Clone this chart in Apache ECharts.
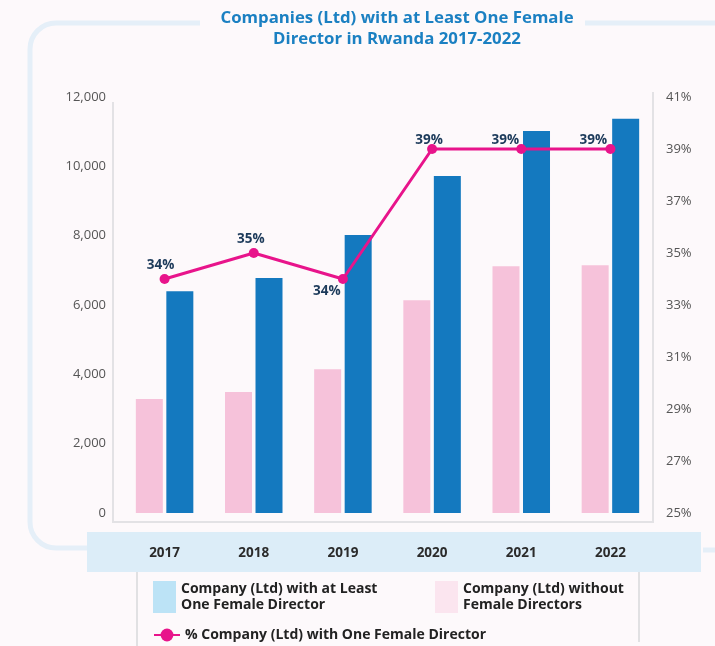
<!DOCTYPE html>
<html>
<head>
<meta charset="utf-8">
<script src="https://cdn.jsdelivr.net/npm/echarts@6/dist/echarts.min.js"></script>
<style>
  html, body { margin: 0; padding: 0; background: #fdf9fb; }
  #chart { width: 715px; height: 646px; }
</style>
</head>
<body>
<div id="chart"></div>
<script>
// Registered companies (Ltd) in Rwanda, by year
const years = ['2017', '2018', '2019', '2020', '2021', '2022'];
const withoutFemale = [3290, 3490, 4150, 6140, 7120, 7150];
const withFemale = [6400, 6780, 8020, 9720, 11020, 11370];
const sharePct = [34, 35, 34, 39, 39, 39];

const leftTicks = { min: 0, max: 12000, interval: 2000 };
const rightTicks = { min: 25, max: 41, interval: 2 };

const NAME_WITH = 'Company (Ltd) with at Least One Female Director';
const NAME_WITHOUT = 'Company (Ltd) without Female Directors';
const NAME_SHARE = '% Company (Ltd) with One Female Director';

const FONT = '"Open Sans", "DejaVu Sans", sans-serif';

// label placement around each point of the share line
const labelPlacement = [
  { position: 'top', offset: [-4, 0] },
  { position: 'top', offset: [-3, 0] },
  { position: 'bottom', offset: [-16, -2] },
  { position: 'top', offset: [-3, 5] },
  { position: 'top', offset: [-16, 5] },
  { position: 'top', offset: [-17, 5] }
];

const shareData = sharePct.map((v, i) => ({
  value: v,
  label: { position: labelPlacement[i].position, offset: labelPlacement[i].offset }
}));

const legendText = {
  fontFamily: FONT, fontWeight: 'bold', fontSize: 14, color: '#222', lineHeight: 16
};

const frameStroke = { stroke: '#e5eff8', lineWidth: 5, fill: null };
const boxStroke = { stroke: '#e3e2e5', lineWidth: 2, fill: null };

const chart = echarts.init(document.getElementById('chart'), null, { renderer: 'canvas' });

chart.setOption({
  backgroundColor: '#fdf9fb',
  animation: false,
  title: {
    text: 'Companies (Ltd) with at Least One Female\nDirector in Rwanda 2017-2022',
    left: 392, top: 3, textAlign: 'center',
    textStyle: { fontFamily: FONT, fontWeight: 'bold', fontSize: 16.8, color: '#1b80c2', lineHeight: 21 }
  },
  graphic: [
    // outer rounded frame
    { type: 'line', z: 0, silent: true, shape: { x1: 200, y1: 23, x2: 56, y2: 23 }, style: frameStroke },
    { type: 'arc', z: 0, silent: true,
      shape: { cx: 56, cy: 49, r: 26, startAngle: Math.PI, endAngle: Math.PI * 1.5 }, style: frameStroke },
    { type: 'line', z: 0, silent: true, shape: { x1: 30, y1: 49, x2: 30, y2: 522 }, style: frameStroke },
    { type: 'arc', z: 0, silent: true,
      shape: { cx: 56, cy: 522, r: 26, startAngle: Math.PI / 2, endAngle: Math.PI }, style: frameStroke },
    { type: 'line', z: 0, silent: true, shape: { x1: 56, y1: 548, x2: 87, y2: 548 }, style: frameStroke },
    { type: 'line', z: 0, silent: true, shape: { x1: 585, y1: 23, x2: 715, y2: 23 }, style: frameStroke },
    { type: 'line', z: 0, silent: true, shape: { x1: 703, y1: 550, x2: 715, y2: 550 }, style: frameStroke },
    // plot box
    { type: 'polyline', z: 0, silent: true,
      shape: { points: [[113, 102], [113, 522], [653, 522], [653, 92]] }, style: boxStroke },
    // category band
    { type: 'rect', z: 0, silent: true,
      shape: { x: 87, y: 532, width: 614, height: 40 }, style: { fill: '#dcedf8' } },
    // legend box sides
    { type: 'line', z: 0, silent: true, shape: { x1: 137, y1: 572, x2: 137, y2: 646 },
      style: { stroke: '#e1e1e3', lineWidth: 2 } },
    { type: 'line', z: 0, silent: true, shape: { x1: 639, y1: 572, x2: 639, y2: 642 },
      style: { stroke: '#e1e1e3', lineWidth: 2 } }
  ],
  legend: [
    {
      data: [{ name: NAME_WITH, icon: 'rect', itemStyle: { color: '#bce3f6' } }],
      left: 153, top: 581, padding: 0, itemWidth: 23, itemHeight: 32,
      selectedMode: false,
      formatter: () => 'Company (Ltd) with at Least\nOne Female Director',
      textStyle: legendText
    },
    {
      data: [{ name: NAME_WITHOUT, icon: 'rect', itemStyle: { color: '#fbe5ef' } }],
      left: 435, top: 581, padding: 0, itemWidth: 23, itemHeight: 32,
      selectedMode: false,
      formatter: () => 'Company (Ltd) without\nFemale Directors',
      textStyle: legendText
    },
    {
      data: [NAME_SHARE],
      left: 153, top: 627, padding: 0, itemWidth: 26, itemHeight: 16,
      selectedMode: false,
      itemStyle: { borderWidth: 0 },
      textStyle: legendText
    }
  ],
  grid: { left: 120, right: 60, top: 97, bottom: 133 },
  xAxis: {
    type: 'category',
    data: years,
    z: 10,
    axisLine: { show: false },
    axisTick: { show: false },
    axisLabel: { margin: 33, fontFamily: FONT, fontWeight: 'bold', fontSize: 13.5, color: '#2b2b2b' }
  },
  yAxis: [
    {
      type: 'value', min: leftTicks.min, max: leftTicks.max, interval: leftTicks.interval,
      splitLine: { show: false }, axisLine: { show: false }, axisTick: { show: false },
      axisLabel: {
        margin: 14, fontFamily: FONT, fontSize: 13, color: '#555',
        formatter: v => v.toLocaleString('en-US')
      }
    },
    {
      type: 'value', min: rightTicks.min, max: rightTicks.max, interval: rightTicks.interval,
      position: 'right',
      splitLine: { show: false }, axisLine: { show: false }, axisTick: { show: false },
      axisLabel: { margin: 11, fontFamily: FONT, fontSize: 13, color: '#555', formatter: '{value}%' }
    }
  ],
  series: [
    {
      name: NAME_WITHOUT, type: 'bar', data: withoutFemale,
      barWidth: 27, barGap: '13%',
      itemStyle: { color: '#f6c2da' }
    },
    {
      name: NAME_WITH, type: 'bar', data: withFemale,
      barWidth: 27, barGap: '13%',
      itemStyle: { color: '#1479bf' }
    },
    {
      name: NAME_SHARE, type: 'line', yAxisIndex: 1, data: shareData,
      z: 5,
      symbol: 'circle', symbolSize: 10,
      lineStyle: { color: '#e8148b', width: 3 },
      itemStyle: { color: '#e8148b' },
      label: {
        show: true, distance: 2,
        fontFamily: FONT, fontWeight: 'bold', fontSize: 13.5, color: '#1c3a5a',
        formatter: p => p.value + '%'
      }
    }
  ]
});
</script>
</body>
</html>
